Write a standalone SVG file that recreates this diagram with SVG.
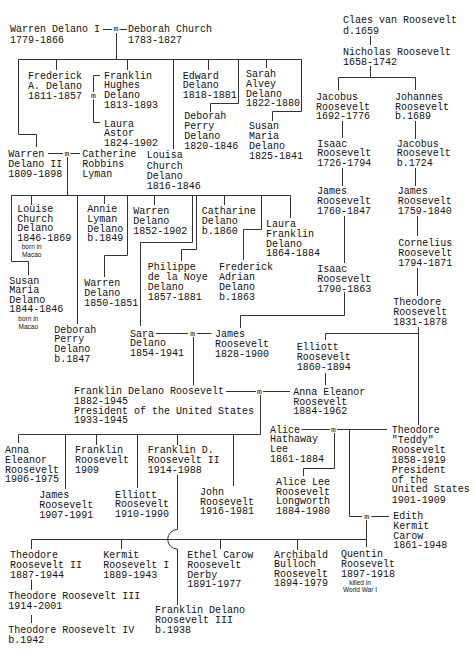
<svg xmlns="http://www.w3.org/2000/svg" width="474" height="655" viewBox="0 0 474 655">
<style>
.t{font-family:"Liberation Mono","DejaVu Sans Mono",monospace;font-size:10px;fill:#111}
.m{font-family:"Liberation Mono","DejaVu Sans Mono",monospace;font-size:8px;fill:#111;text-anchor:middle}
.s{font-family:"Liberation Sans",Arial,sans-serif;font-size:6.5px;fill:#111;text-anchor:middle}
#connectors path{fill:none;stroke:#333;stroke-width:1}
</style>
<rect width="474" height="655" fill="#fff"/>
<g id="connectors">
<path d="M103,29.5H112M119.5,29.5H127M116.5,33V59.5M18.5,59.5H301.5M56.5,59.5V70M127.5,59.5V70M173.5,59.5V149M208.5,59.5V70M266.5,59.5V68"/>
<path d="M301.5,59.5V111.5H272.5V121M238.5,59.5V103.5H210.5V112"/>
<path d="M100,75.5H93.5V92M93.5,99.5V122.5H100"/>
<path d="M18.5,59.5V134.5H36.5V147M48,153.5H63M70.5,153.5H80M67.5,157V195.5M11.5,195.5H290.5"/>
<path d="M31.5,195.5V205M11.5,195.5V261.5H28.5V275M77.5,195.5V324M104.5,195.5V204M127.5,195.5V255.5H104.5V277M154.5,195.5V205"/>
<path d="M192.5,195.5V242.5H140.5V326M196.5,195.5V249.5H181.5V261M224.5,195.5V205M261.5,195.5V229.5H243.5V260M290.5,195.5V218"/>
<path d="M370.5,36V45M370.5,66V77.5M338.5,77.5H415.5M338.5,77.5V90M415.5,77.5V90M342.5,121V138M415.5,121V139M342.5,168V186M415.5,168V186"/>
<path d="M344.5,216V263M417.5,216V236M417.5,268V296M344.5,292V315.5H240.5V328"/>
<path d="M156,333.5H188M197,333.5H211.5M193.5,337V385"/>
<path d="M418.5,327V425M325.5,333.5H418.5M325.5,333.5V340M325.5,373V385"/>
<path d="M226,391.5H256M263,391.5H290M260.5,395V434.5M18.5,434.5H260.5"/>
<path d="M18.5,434.5V443M65.5,434.5V489M96.5,434.5V445M137.5,434.5V488M177.5,434.5V445M233.5,434.5V486"/>
<path d="M177.5,475V529.5A9.8,9.8 0 0 0 177.5,549.1V605"/>
<path d="M301.5,429.5H330M337,429.5H387M334.5,433V468.5H303.5V476M349.5,429.5V516.5H362M371.5,516.5H389M366.5,520V547M31.5,539.5H366.5"/>
<path d="M31.5,539.5V549M121.5,539.5V549M220.5,539.5V549M297.5,539.5V550M31.5,580V590M31.5,615V623"/>
<text class="m" x="115.8" y="31">m</text>
<text class="m" x="93.5" y="98">m</text>
<text class="m" x="66.8" y="155.5">m</text>
<text class="m" x="192.7" y="335.5">m</text>
<text class="m" x="259.5" y="393.5">m</text>
<text class="m" x="333.5" y="431.5">m</text>
<text class="m" x="366.7" y="518.7">m</text>
</g>
<g id="warren1"><text class="t"><tspan x="10" y="32">Warren Delano I</tspan><tspan x="10" y="42.5">1779-1866</tspan></text></g>
<g id="deborahC"><text class="t"><tspan x="128" y="32">Deborah Church</tspan><tspan x="128" y="42.5">1783-1827</tspan></text></g>
<g id="claes"><text class="t"><tspan x="343" y="22.8">Claes van Roosevelt</tspan><tspan x="343" y="33.5">d.1659</tspan></text></g>
<g id="nicholas"><text class="t"><tspan x="343" y="54.5">Nicholas Roosevelt</tspan><tspan x="343" y="64.5">1658-1742</tspan></text></g>
<g id="frederickA"><text class="t"><tspan x="28" y="79">Frederick</tspan><tspan x="28" y="89">A. Delano</tspan><tspan x="28" y="99">1811-1857</tspan></text></g>
<g id="franklinH"><text class="t"><tspan x="104" y="78.6">Franklin</tspan><tspan x="104" y="88.3">Hughes</tspan><tspan x="104" y="98">Delano</tspan><tspan x="104" y="107.7">1813-1893</tspan></text></g>
<g id="lauraA"><text class="t"><tspan x="104" y="126.6">Laura</tspan><tspan x="104" y="136.2">Astor</tspan><tspan x="104" y="145.8">1824-1902</tspan></text></g>
<g id="edward"><text class="t"><tspan x="182.7" y="78.6">Edward</tspan><tspan x="182.7" y="88.4">Delano</tspan><tspan x="182.7" y="98.2">1818-1881</tspan></text></g>
<g id="deborahP1"><text class="t"><tspan x="184.3" y="119.3">Deborah</tspan><tspan x="184.3" y="129.3">Perry</tspan><tspan x="184.3" y="139.3">Delano</tspan><tspan x="184.3" y="149.3">1820-1846</tspan></text></g>
<g id="sarahA"><text class="t"><tspan x="246" y="77.3">Sarah</tspan><tspan x="246" y="86.9">Alvey</tspan><tspan x="246" y="96.5">Delano</tspan><tspan x="246" y="106.1">1822-1880</tspan></text></g>
<g id="susanM1"><text class="t"><tspan x="249" y="129.3">Susan</tspan><tspan x="249" y="139.3">Maria</tspan><tspan x="249" y="149.3">Delano</tspan><tspan x="249" y="159.3">1825-1841</tspan></text></g>
<g id="jacobus1"><text class="t"><tspan x="316" y="100">Jacobus</tspan><tspan x="316" y="109.6">Roosevelt</tspan><tspan x="316" y="119.2">1692-1776</tspan></text></g>
<g id="johannes"><text class="t"><tspan x="395" y="100">Johannes</tspan><tspan x="395" y="109.6">Roosevelt</tspan><tspan x="395" y="119.2">b.1689</tspan></text></g>
<g id="isaac1726"><text class="t"><tspan x="317.3" y="146.6">Isaac</tspan><tspan x="317.3" y="156.2">Roosevelt</tspan><tspan x="317.3" y="165.8">1726-1794</tspan></text></g>
<g id="jacobus2"><text class="t"><tspan x="396.7" y="146.6">Jacobus</tspan><tspan x="396.7" y="156.2">Roosevelt</tspan><tspan x="396.7" y="165.8">b.1724</tspan></text></g>
<g id="james1760"><text class="t"><tspan x="317" y="194.3">James</tspan><tspan x="317" y="203.9">Roosevelt</tspan><tspan x="317" y="213.5">1760-1847</tspan></text></g>
<g id="james1759"><text class="t"><tspan x="397.7" y="194.3">James</tspan><tspan x="397.7" y="203.9">Roosevelt</tspan><tspan x="397.7" y="213.5">1759-1840</tspan></text></g>
<g id="warren2"><text class="t"><tspan x="8.3" y="156.6">Warren</tspan><tspan x="8.3" y="166.6">Delano II</tspan><tspan x="8.3" y="176.6">1809-1898</tspan></text></g>
<g id="catherineL"><text class="t"><tspan x="82.3" y="156.6">Catherine</tspan><tspan x="82.3" y="166.6">Robbins</tspan><tspan x="82.3" y="176.6">Lyman</tspan></text></g>
<g id="louisaC"><text class="t"><tspan x="146.7" y="158.3">Louisa</tspan><tspan x="146.7" y="168.5">Church</tspan><tspan x="146.7" y="178.7">Delano</tspan><tspan x="146.7" y="188.9">1816-1846</tspan></text></g>
<g id="louiseC"><text class="t"><tspan x="17.3" y="212.2">Louise</tspan><tspan x="17.3" y="221.8">Church</tspan><tspan x="17.3" y="231.4">Delano</tspan><tspan x="17.3" y="241">1846-1869</tspan></text><text class="s"><tspan x="31.7" y="248.8">born in</tspan><tspan x="31.7" y="256.9">Macao</tspan></text></g>
<g id="susanM2"><text class="t"><tspan x="9.3" y="283.5">Susan</tspan><tspan x="9.3" y="293">Maria</tspan><tspan x="9.3" y="302.5">Delano</tspan><tspan x="9.3" y="312">1844-1846</tspan></text><text class="s"><tspan x="28.3" y="320.8">born in</tspan><tspan x="28.3" y="328.8">Macao</tspan></text></g>
<g id="annieL"><text class="t"><tspan x="87.3" y="212.3">Annie</tspan><tspan x="87.3" y="222">Lyman</tspan><tspan x="87.3" y="231.7">Delano</tspan><tspan x="87.3" y="241.4">b.1849</tspan></text></g>
<g id="warren1850"><text class="t"><tspan x="84.3" y="286">Warren</tspan><tspan x="84.3" y="296">Delano</tspan><tspan x="84.3" y="306">1850-1851</tspan></text></g>
<g id="warren1852"><text class="t"><tspan x="133.3" y="214">Warren</tspan><tspan x="133.3" y="224">Delano</tspan><tspan x="133.3" y="234">1852-1902</tspan></text></g>
<g id="catharine"><text class="t"><tspan x="201.7" y="214">Catharine</tspan><tspan x="201.7" y="223.8">Delano</tspan><tspan x="201.7" y="233.6">b.1860</tspan></text></g>
<g id="philippe"><text class="t"><tspan x="147.7" y="270">Philippe</tspan><tspan x="147.7" y="280">de la Noye</tspan><tspan x="147.7" y="290">Delano</tspan><tspan x="147.7" y="300">1857-1881</tspan></text></g>
<g id="frederickAd"><text class="t"><tspan x="219" y="270">Frederick</tspan><tspan x="219" y="280">Adrian</tspan><tspan x="219" y="290">Delano</tspan><tspan x="219" y="300">b.1863</tspan></text></g>
<g id="lauraF"><text class="t"><tspan x="266" y="227.3">Laura</tspan><tspan x="266" y="237">Franklin</tspan><tspan x="266" y="246.7">Delano</tspan><tspan x="266" y="256.4">1864-1884</tspan></text></g>
<g id="isaac1790"><text class="t"><tspan x="317.3" y="272.3">Isaac</tspan><tspan x="317.3" y="282">Roosevelt</tspan><tspan x="317.3" y="291.7">1790-1863</tspan></text></g>
<g id="cornelius"><text class="t"><tspan x="398.3" y="246">Cornelius</tspan><tspan x="398.3" y="256">Roosevelt</tspan><tspan x="398.3" y="266">1794-1871</tspan></text></g>
<g id="theodore1831"><text class="t"><tspan x="393.3" y="305">Theodore</tspan><tspan x="393.3" y="315">Roosevelt</tspan><tspan x="393.3" y="325">1831-1878</tspan></text></g>
<g id="deborahP2"><text class="t"><tspan x="54.3" y="332.6">Deborah</tspan><tspan x="54.3" y="342.3">Perry</tspan><tspan x="54.3" y="352">Delano</tspan><tspan x="54.3" y="361.7">b.1847</tspan></text></g>
<g id="sara"><text class="t"><tspan x="130" y="336.6">Sara</tspan><tspan x="130" y="346.3">Delano</tspan><tspan x="130" y="356">1854-1941</tspan></text></g>
<g id="james1828"><text class="t"><tspan x="215" y="337.3">James</tspan><tspan x="215" y="347.3">Roosevelt</tspan><tspan x="215" y="357.3">1828-1900</tspan></text></g>
<g id="elliott1860"><text class="t"><tspan x="296.7" y="350">Elliott</tspan><tspan x="296.7" y="360">Roosevelt</tspan><tspan x="296.7" y="370">1860-1894</tspan></text></g>
<g id="annaE1884"><text class="t"><tspan x="293.3" y="395">Anna Eleanor</tspan><tspan x="293.3" y="404.7">Roosevelt</tspan><tspan x="293.3" y="414.4">1884-1962</tspan></text></g>
<g id="fdr"><text class="t"><tspan x="74" y="394.3">Franklin Delano Roosevelt</tspan><tspan x="74" y="404">1882-1945</tspan><tspan x="74" y="413.7">President of the United States</tspan><tspan x="74" y="423.4">1933-1945</tspan></text></g>
<g id="annaE1906"><text class="t"><tspan x="5" y="453.3">Anna</tspan><tspan x="5" y="463">Eleanor</tspan><tspan x="5" y="472.7">Roosevelt</tspan><tspan x="5" y="482.4">1906-1975</tspan></text></g>
<g id="james1907"><text class="t"><tspan x="39.3" y="498.3">James</tspan><tspan x="39.3" y="508">Roosevelt</tspan><tspan x="39.3" y="517.7">1907-1991</tspan></text></g>
<g id="franklin1909"><text class="t"><tspan x="75" y="453.3">Franklin</tspan><tspan x="75" y="463">Roosevelt</tspan><tspan x="75" y="472.7">1909</tspan></text></g>
<g id="elliott1910"><text class="t"><tspan x="115" y="497.5">Elliott</tspan><tspan x="115" y="507.4">Roosevelt</tspan><tspan x="115" y="517.3">1910-1990</tspan></text></g>
<g id="fdr2"><text class="t"><tspan x="147.7" y="453.3">Franklin D.</tspan><tspan x="147.7" y="463">Roosevelt II</tspan><tspan x="147.7" y="472.8">1914-1988</tspan></text></g>
<g id="john"><text class="t"><tspan x="200" y="495">John</tspan><tspan x="200" y="504.7">Roosevelt</tspan><tspan x="200" y="514.4">1916-1981</tspan></text></g>
<g id="aliceH"><text class="t"><tspan x="270" y="432.6">Alice</tspan><tspan x="270" y="442.3">Hathaway</tspan><tspan x="270" y="452">Lee</tspan><tspan x="270" y="461.7">1861-1884</tspan></text></g>
<g id="teddy"><text class="t"><tspan x="391.7" y="432.6">Theodore</tspan><tspan x="391.7" y="442.6">"Teddy"</tspan><tspan x="391.7" y="452.6">Roosevelt</tspan><tspan x="391.7" y="462.6">1858-1919</tspan><tspan x="391.7" y="472.6">President</tspan><tspan x="391.7" y="482.6">of the</tspan><tspan x="391.7" y="492.4">United States</tspan><tspan x="391.7" y="502.6">1901-1909</tspan></text></g>
<g id="aliceL"><text class="t"><tspan x="276" y="485">Alice Lee</tspan><tspan x="276" y="494.6">Roosevelt</tspan><tspan x="276" y="504.2">Longworth</tspan><tspan x="276" y="513.8">1884-1980</tspan></text></g>
<g id="edith"><text class="t"><tspan x="393.3" y="519.3">Edith</tspan><tspan x="393.3" y="528.9">Kermit</tspan><tspan x="393.3" y="538.5">Carow</tspan><tspan x="393.3" y="548.1">1861-1948</tspan></text></g>
<g id="tr2"><text class="t"><tspan x="10" y="558.3">Theodore</tspan><tspan x="10" y="568">Roosevelt II</tspan><tspan x="10" y="577.7">1887-1944</tspan></text></g>
<g id="tr3"><text class="t"><tspan x="8.3" y="599">Theodore Roosevelt III</tspan><tspan x="8.3" y="609.3">1914-2001</tspan></text></g>
<g id="tr4"><text class="t"><tspan x="8.3" y="632.6">Theodore Roosevelt IV</tspan><tspan x="8.3" y="642.6">b.1942</tspan></text></g>
<g id="kermit"><text class="t"><tspan x="103.3" y="558.3">Kermit</tspan><tspan x="103.3" y="568">Roosevelt I</tspan><tspan x="103.3" y="577.7">1889-1943</tspan></text></g>
<g id="ethel"><text class="t"><tspan x="187.3" y="558.3">Ethel Carow</tspan><tspan x="187.3" y="568">Roosevelt</tspan><tspan x="187.3" y="577.7">Derby</tspan><tspan x="187.3" y="587.4">1891-1977</tspan></text></g>
<g id="fdr3"><text class="t"><tspan x="155" y="613.3">Franklin Delano</tspan><tspan x="155" y="623">Roosevelt III</tspan><tspan x="155" y="632.7">b.1938</tspan></text></g>
<g id="archibald"><text class="t"><tspan x="274" y="557.6">Archibald</tspan><tspan x="274" y="567.2">Bulloch</tspan><tspan x="274" y="576.8">Roosevelt</tspan><tspan x="274" y="586.4">1894-1979</tspan></text></g>
<g id="quentin"><text class="t"><tspan x="341" y="556.6">Quentin</tspan><tspan x="341" y="566.6">Roosevelt</tspan><tspan x="341" y="576.6">1897-1918</tspan></text><text class="s"><tspan x="360" y="585">killed in</tspan><tspan x="360" y="592.3">World War I</tspan></text></g>
</svg>
